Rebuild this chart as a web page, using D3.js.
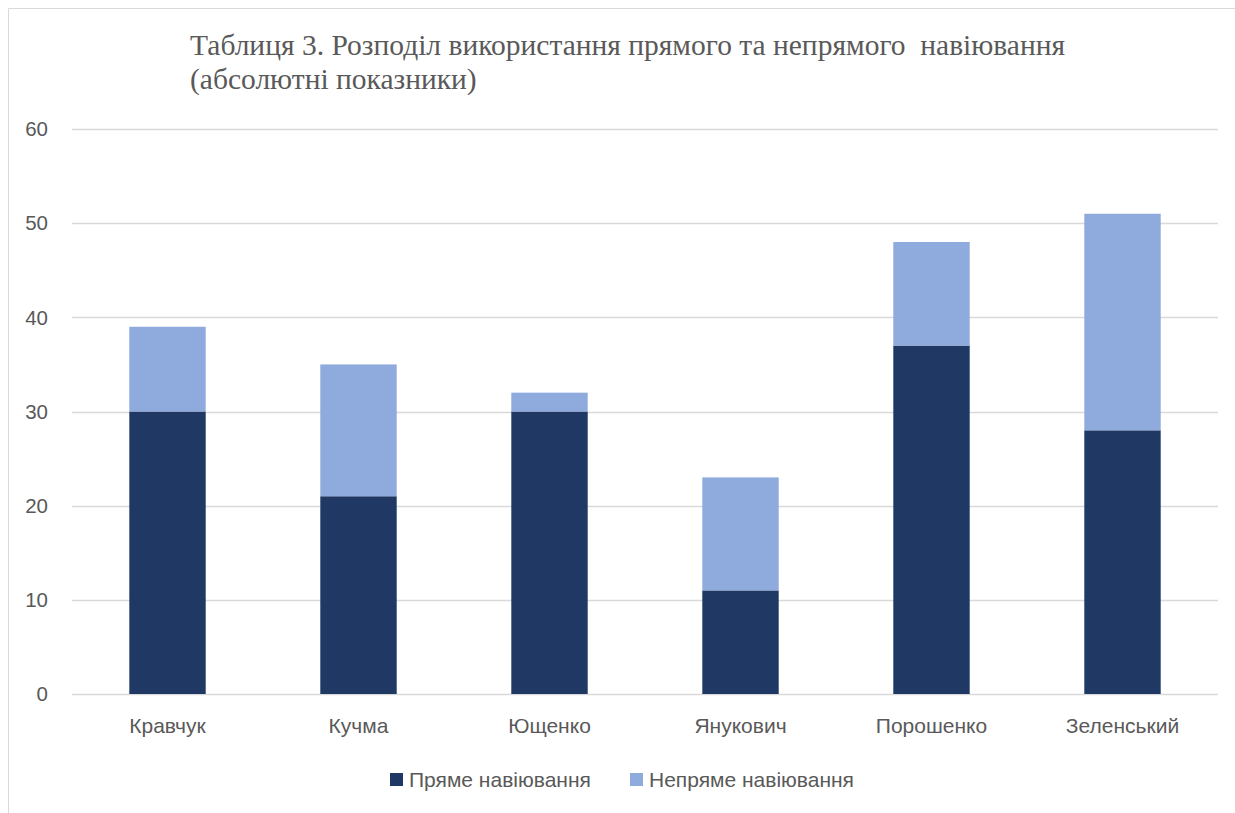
<!DOCTYPE html>
<html><head><meta charset="utf-8">
<script src="https://cdn.jsdelivr.net/npm/d3@7"></script>
<style>
body{margin:0;background:#fff;}
text{white-space:pre;}
</style>
</head><body>
<svg id="c" width="1235" height="813"></svg>
<script>
const categories = ["Кравчук","Кучма","Ющенко","Янукович","Порошенко","Зеленський"];
const direct = [30,21,30,11,37,28];
const indirect = [9,14,2,12,11,23];
const seriesNames = ["Пряме навіювання","Непряме навіювання"];
const colors = ["#203864","#8faadc"];
const yTicks = [0,10,20,30,40,50,60];
const titleLines = ["Таблиця 3. Розподіл використання прямого та непрямого  навіювання","(абсолютні показники)"];

const sans = "Liberation Sans, Arial, sans-serif";
const fs = 21;
const svg = d3.select("#c");
// chart border
svg.append("path").attr("d","M8.5,813 L8.5,8.5 L1235,8.5").attr("fill","none").attr("stroke","#d9d9d9").attr("stroke-width",1);

const x = d3.scaleBand().domain(categories).range([72,1218]).paddingInner(0.6).paddingOuter(0.3);
const y = d3.scaleLinear().domain([0,60]).range([694,129]);

// gridlines
svg.append("g").selectAll("line").data(yTicks).join("line")
  .attr("x1",72).attr("x2",1218).attr("y1",d=>Math.round(y(d))+0.5).attr("y2",d=>Math.round(y(d))+0.5)
  .attr("stroke","#d9d9d9").attr("stroke-width",1.3);

// y tick labels
svg.append("g").selectAll("text").data(yTicks).join("text")
  .attr("x",48).attr("y",d=>y(d)).attr("dy","0.35em").attr("text-anchor","end")
  .attr("font-family",sans).attr("font-size",20.5).attr("fill","#595959")
  .text(d=>d);

const data = categories.map((c,i)=>({cat:c, a:direct[i], b:indirect[i]}));
const stack = d3.stack().keys(["a","b"])(data);

svg.append("g").selectAll("g").data(stack).join("g").attr("fill",(d,i)=>colors[i])
  .selectAll("rect").data(d=>d).join("rect")
  .attr("x",d=>x(d.data.cat)).attr("width",x.bandwidth())
  .attr("y",d=>y(d[1])).attr("height",d=>y(d[0])-y(d[1]));

// x labels
svg.append("g").selectAll("text").data(categories).join("text")
  .attr("x",d=>x(d)+x.bandwidth()/2).attr("y",726).attr("dy","0.35em").attr("text-anchor","middle")
  .attr("font-family",sans).attr("font-size",fs).attr("fill","#595959")
  .text(d=>d);

// title
svg.append("g").selectAll("text").data(titleLines).join("text")
  .attr("x",190).attr("y",(d,i)=>55+i*34)
  .attr("font-family","Liberation Serif, Times New Roman, serif").attr("font-size",29.5).attr("fill","#595959")
  .text(d=>d);

// legend
const legX = [390,630];
const lg = svg.append("g").selectAll("g").data(seriesNames).join("g")
  .attr("transform",(d,i)=>`translate(${legX[i]},780)`);
lg.append("rect").attr("x",0).attr("y",-7).attr("width",13).attr("height",13).attr("fill",(d,i)=>colors[i]);
lg.append("text").attr("x",19).attr("y",0).attr("dy","0.35em")
  .attr("font-family",sans).attr("font-size",fs).attr("fill","#595959")
  .text(d=>d);
</script>
</body></html>
